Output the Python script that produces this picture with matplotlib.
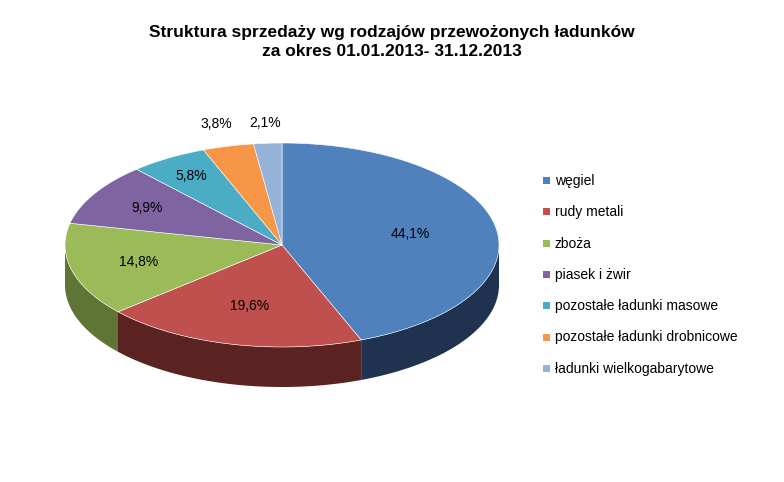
import numpy as np
import matplotlib
matplotlib.use('Agg')
import matplotlib.pyplot as plt
from matplotlib.patches import Polygon, Rectangle

plt.rcParams['font.family'] = ['Liberation Sans Narrow', 'Liberation Sans', 'DejaVu Sans']

labels = ['węgiel', 'rudy metali', 'zboża', 'piasek i żwir',
          'pozostałe ładunki masowe', 'pozostałe ładunki drobnicowe', 'ładunki wielkogabarytowe']
values = [44.1, 19.6, 14.8, 9.9, 5.8, 3.8, 2.1]
texts = ['44,1%', '19,6%', '14,8%', '9,9%', '5,8%', '3,8%', '2,1%']
colors = ['#4F81BD', '#C0504D', '#9BBB59', '#8064A2', '#4BACC6', '#F79646', '#95B3D7']
sides = ['#1F3350', '#5A2220', '#5E7535', '#4A3A60', '#2C6E82', '#A85F22', '#5E7090']
label_r = [0.6, 0.62, 0.68, 0.72, 0.8, 1.22, 1.2]

fig = plt.figure(figsize=(7.84, 4.82), dpi=100)
ax = fig.add_axes([0, 0, 1, 1])
ax.set_xlim(0, 784)
ax.set_ylim(482, 0)
ax.axis('off')

cx, cy, rx, ry, depth = 282, 245, 217, 102, 40

def pt(t, dy=0):
    return cx + rx * np.cos(t), cy - ry * np.sin(t) + dy

frac = np.array(values) / sum(values)
ends = np.cumsum(frac)
starts = ends - frac

# side walls (front half only)
for i in range(len(values)):
    t1 = np.radians(90 - 360 * ends[i])
    t2 = np.radians(90 - 360 * starts[i])
    lo, hi = max(t1, -np.pi), min(t2, 0)
    if t1 < -np.pi:
        lo2, hi2 = t1 + 2 * np.pi, min(t2 + 2 * np.pi, 2 * np.pi)
    if lo < hi:
        ts = np.linspace(lo, hi, 80)
        top = [pt(t) for t in ts]
        bot = [pt(t, depth) for t in ts[::-1]]
        ax.add_patch(Polygon(top + bot, closed=True, fc=sides[i], ec='none'))
    # radial edge faces visible on the cut at the left side
    for t in (t1,):
        pass

# top faces
for i in range(len(values)):
    t1 = np.radians(90 - 360 * ends[i])
    t2 = np.radians(90 - 360 * starts[i])
    ts = np.linspace(t1, t2, 120)
    poly = [(cx, cy)] + [pt(t) for t in ts]
    ax.add_patch(Polygon(poly, closed=True, fc=colors[i], ec='white', lw=0.4))
    tm = (t1 + t2) / 2
    lx = cx + label_r[i] * rx * np.cos(tm)
    ly = cy - label_r[i] * ry * np.sin(tm)
    ax.text(lx, ly, texts[i], ha='center', va='center', fontsize=10)

ax.text(392, 42, 'Struktura sprzedaży wg rodzajów przewożonych ładunków\nza okres 01.01.2013- 31.12.2013',
        ha='center', va='center', fontsize=12.5, fontweight='bold', linespacing=1.3)

for i, lab in enumerate(labels):
    y = 181 + i * 31.3
    ax.add_patch(Rectangle((543, y - 4), 7, 7, fc=colors[i], ec='none'))
    ax.text(555, y, lab, va='center', ha='left', fontsize=10)

fig.savefig('out.png', dpi=100)
